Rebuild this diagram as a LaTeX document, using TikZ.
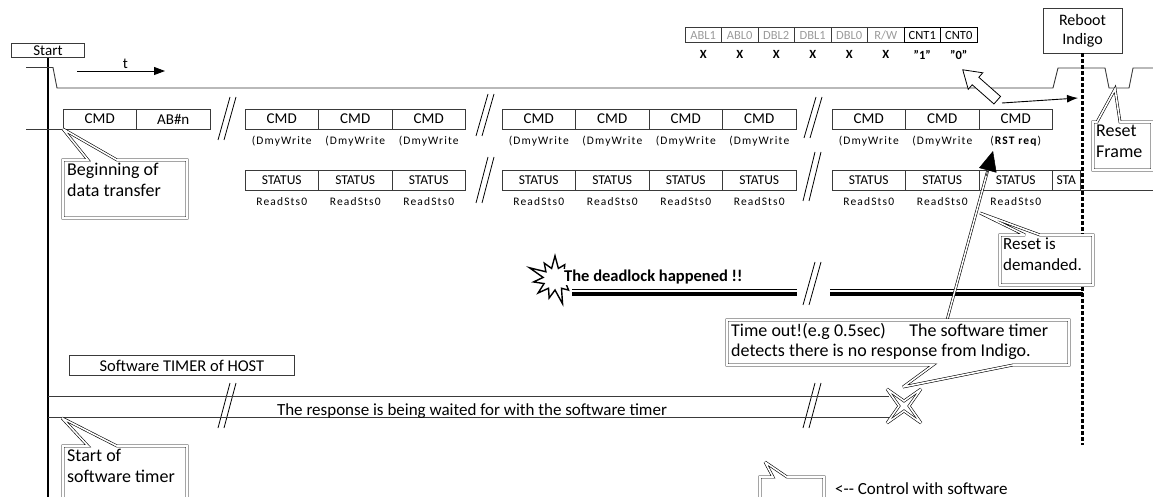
\documentclass[tikz,border=0pt]{standalone}
\usepackage{fontspec}
\setmainfont{Carlito}
\newfontfamily\widefont[LetterSpace=10]{Carlito}
\usepackage{tikz}
\usetikzlibrary{shapes.symbols,positioning,calc,arrows.meta}
\definecolor{line_gray}{HTML}{3a3a3a}
\definecolor{bit_gray}{HTML}{9b9b9b}
\tikzset{FIELD/.style={rectangle,draw=line_gray,line width=0.9pt,minimum width=73.5pt,minimum height=20pt,inner sep=0pt,outer sep=0pt,font=\fontsize{15}{15}\selectfont}}
\tikzset{STS/.style={FIELD,font=\fontsize{13.5}{14}\selectfont}}
\tikzset{NOTE/.style={inner sep=0pt,font=\widefont\fontsize{11.5}{12}\selectfont}}
\tikzset{BIT/.style={rectangle,draw=line_gray,line width=0.7pt,minimum width=36.5pt,minimum height=15pt,inner sep=0pt,outer sep=0pt,text=bit_gray,font=\fontsize{12.5}{13}\selectfont}}
\tikzset{BITVAL/.style={inner sep=0pt,font=\bfseries\fontsize{12.5}{13}\selectfont}}
\tikzset{CALLOUT/.style={draw,double,double distance=1.6pt,line width=0.6pt,fill=white,line join=miter,miter limit=4}}
\tikzset{CALLTEXT/.style={anchor=north west,align=left,inner sep=0pt,font=\fontsize{18}{21}\selectfont}}
\tikzset{WIRE/.style={draw=line_gray,line width=0.9pt}}
\tikzset{BREAK/.style={line width=0.8pt}}

\begin{document}
\begin{tikzpicture}[x=1pt,y=-1pt]
\useasboundingbox (0,0) rectangle (1153,497);

\node[draw=line_gray,line width=0.9pt,minimum width=73pt,minimum height=14pt,inner sep=0pt,anchor=south west,font=\fontsize{15}{15}\selectfont] (n_start) at (11,58) {Start};
\draw[line width=2.6pt] (n_start.south) -- ++(0,442);

\draw[WIRE] (26,67.5) -- (53,67.5) -- (57,88) -- (1053,88) -- (1058,68) -- (1105,68) -- (1109,88) -- (1129,88) -- (1133,68) -- (1153,68);
\draw[line width=0.9pt,-{Triangle[length=11pt,width=8pt]}] (77,71) -- (165,71) node[pos=0.55,above=2pt,inner sep=0pt,font=\fontsize{15}{15}\selectfont] (n_t) {t};

% bit field of the command
\node[BIT,anchor=north west] (n_abl1) at (685,27.5) {ABL1};
\node[BIT,right=0pt of n_abl1] (n_abl0) {ABL0};
\node[BIT,right=0pt of n_abl0] (n_dbl2) {DBL2};
\node[BIT,right=0pt of n_dbl2] (n_dbl1) {DBL1};
\node[BIT,right=0pt of n_dbl1] (n_dbl0) {DBL0};
\node[BIT,right=0pt of n_dbl0] (n_rw) {R/W};
\node[BIT,right=0pt of n_rw,text=black,draw=black] (n_cnt1) {CNT1};
\node[BIT,right=0pt of n_cnt1,text=black,draw=black] (n_cnt0) {CNT0};
\node[BITVAL] (v_abl1) at ($(n_abl1.south)+(0,12)$) {X};
\node[BITVAL] (v_abl0) at ($(n_abl0.south)+(0,12)$) {X};
\node[BITVAL] (v_dbl2) at ($(n_dbl2.south)+(0,12)$) {X};
\node[BITVAL] (v_dbl1) at ($(n_dbl1.south)+(0,12)$) {X};
\node[BITVAL] (v_dbl0) at ($(n_dbl0.south)+(0,12)$) {X};
\node[BITVAL] (v_rw) at ($(n_rw.south)+(0,12)$) {X};
\node[BITVAL] (v_cnt1) at ($(n_cnt1.south)+(0,12)$) {"1"};
\node[BITVAL] (v_cnt0) at ($(n_cnt0.south)+(0,12)$) {"0"};

% command frames
\draw[WIRE] (26,129) -- (63,129);
\node[FIELD,anchor=north west] (n_cmd_a1) at (63,109) {CMD};
\node[FIELD,right=0pt of n_cmd_a1] (n_abn) {AB\#n};

\node[FIELD,anchor=north west] (n_cmd_b1) at (245,109) {CMD};
\node[FIELD,right=0pt of n_cmd_b1] (n_cmd_b2) {CMD};
\node[FIELD,right=0pt of n_cmd_b2] (n_cmd_b3) {CMD};
\node[NOTE] (n_dw_b1) at ($(n_cmd_b1.south)+(0,12)$) {(DmyWrite};
\node[NOTE] (n_dw_b2) at ($(n_cmd_b2.south)+(0,12)$) {(DmyWrite};
\node[NOTE] (n_dw_b3) at ($(n_cmd_b3.south)+(0,12)$) {(DmyWrite};

\node[FIELD,anchor=north west] (n_cmd_c1) at (502,109) {CMD};
\node[FIELD,right=0pt of n_cmd_c1] (n_cmd_c2) {CMD};
\node[FIELD,right=0pt of n_cmd_c2] (n_cmd_c3) {CMD};
\node[FIELD,right=0pt of n_cmd_c3] (n_cmd_c4) {CMD};
\node[NOTE] (n_dw_c1) at ($(n_cmd_c1.south)+(0,12)$) {(DmyWrite};
\node[NOTE] (n_dw_c2) at ($(n_cmd_c2.south)+(0,12)$) {(DmyWrite};
\node[NOTE] (n_dw_c3) at ($(n_cmd_c3.south)+(0,12)$) {(DmyWrite};
\node[NOTE] (n_dw_c4) at ($(n_cmd_c4.south)+(0,12)$) {(DmyWrite};

\node[FIELD,anchor=north west] (n_cmd_d1) at (832,109) {CMD};
\node[FIELD,right=0pt of n_cmd_d1] (n_cmd_d2) {CMD};
\node[FIELD,right=0pt of n_cmd_d2] (n_cmd_d3) {CMD};
\node[NOTE] (n_dw_d1) at ($(n_cmd_d1.south)+(0,12)$) {(DmyWrite};
\node[NOTE] (n_dw_d2) at ($(n_cmd_d2.south)+(0,12)$) {(DmyWrite};
\node[NOTE] (n_rst) at ($(n_cmd_d3.south)+(0,12)$) {(\textbf{RST req})};

% status frames
\node[STS,anchor=north west] (n_sts_b1) at (245,170) {STATUS};
\node[STS,right=0pt of n_sts_b1] (n_sts_b2) {STATUS};
\node[STS,right=0pt of n_sts_b2] (n_sts_b3) {STATUS};
\node[NOTE] (n_rs_b1) at ($(n_sts_b1.south)+(0,12)$) {ReadSts0};
\node[NOTE] (n_rs_b2) at ($(n_sts_b2.south)+(0,12)$) {ReadSts0};
\node[NOTE] (n_rs_b3) at ($(n_sts_b3.south)+(0,12)$) {ReadSts0};

\node[STS,anchor=north west] (n_sts_c1) at (502,170) {STATUS};
\node[STS,right=0pt of n_sts_c1] (n_sts_c2) {STATUS};
\node[STS,right=0pt of n_sts_c2] (n_sts_c3) {STATUS};
\node[STS,right=0pt of n_sts_c3] (n_sts_c4) {STATUS};
\node[NOTE] (n_rs_c1) at ($(n_sts_c1.south)+(0,12)$) {ReadSts0};
\node[NOTE] (n_rs_c2) at ($(n_sts_c2.south)+(0,12)$) {ReadSts0};
\node[NOTE] (n_rs_c3) at ($(n_sts_c3.south)+(0,12)$) {ReadSts0};
\node[NOTE] (n_rs_c4) at ($(n_sts_c4.south)+(0,12)$) {ReadSts0};

\node[STS,anchor=north west] (n_sts_d1) at (832,170) {STATUS};
\node[STS,right=0pt of n_sts_d1] (n_sts_d2) {STATUS};
\node[STS,right=0pt of n_sts_d2] (n_sts_d3) {STATUS};
\node[STS,right=0pt of n_sts_d3,minimum width=27.5pt] (n_sts_d4) {STA};
\node[NOTE] (n_rs_d1) at ($(n_sts_d1.south)+(0,12)$) {ReadSts0};
\node[NOTE] (n_rs_d2) at ($(n_sts_d2.south)+(0,12)$) {ReadSts0};
\node[NOTE] (n_rs_d3) at ($(n_sts_d3.south)+(0,12)$) {ReadSts0};
\draw[WIRE] (n_sts_d4.south east) -- (1153,190);

% breaks of the time axis
\foreach \bx/\bt/\bb in {227/97/140, 485/94/136, 813/97/138, 485/157/203, 812/152/201, 812/262/305, 227/383/428, 812/383/428}
  \draw[BREAK] (\bx-9,\bb) -- (\bx+3,\bt) (\bx-3,\bb) -- (\bx+9,\bt);

% deadlock
\node[starburst,draw,fill=white,line width=1.4pt,minimum width=58pt,minimum height=56pt,starburst points=11,starburst point height=17pt,inner sep=0pt] (n_burst) at (555,279) {};
\node[anchor=base west,fill=white,inner sep=1pt,font=\bfseries\fontsize{16.5}{17}\selectfont] (n_deadlock) at (563,281.5) {The deadlock happened !!};
\draw[line width=0.6pt] (572,289.5) -- (797,289.5) (830,289.5) -- (1083,289.5);
\draw[line width=4pt] (572,294.3) -- (797,294.3) (830,294.3) -- (1083,294.3);

% host timer
\node[draw=line_gray,line width=0.9pt,minimum width=225pt,minimum height=20pt,inner sep=0pt,anchor=north west,font=\fontsize{16.5}{17}\selectfont] (n_timer) at (69,355) {Software TIMER of HOST};
\draw[WIRE] (48,396) -- (889,396) (48,417) -- (889,417);
\node[anchor=base,inner sep=0pt,font=\fontsize{17}{17}\selectfont] (n_wait) at (472,415.5) {The response is being waited for with the software timer};

% reboot
\node[draw=line_gray,line width=0.9pt,minimum width=79pt,minimum height=45pt,align=center,inner sep=0pt,font=\fontsize{16}{19}\selectfont] (n_reboot) at (1082.5,30.5) {Reboot\\Indigo};
\draw[line width=3.4pt,dash pattern=on 3.3pt off 2.7pt] (n_reboot.south) -- (1082.5,445);

\coordinate (c_rst_out) at (1002,103);
\coordinate (c_reboot) at (1078,98);
\draw[line width=0.9pt,-{Latex[length=11pt,width=8pt]}] (c_rst_out) -- (c_reboot);
\begin{scope}[shift={(980,85)},rotate=138.6]
  \draw[fill=white,line width=0.8pt] (-23,-5) -- (6,-5) -- (6,-11) -- (23,0) -- (6,11) -- (6,5) -- (-23,5) -- cycle;
\end{scope}

\coordinate (c_to_top) at (947,320);
\coordinate (c_rst_in) at (993,151);
\draw[double,double distance=1.5pt,line width=0.6pt] (c_to_top) -- ($(c_to_top)!0.9!(c_rst_in)$);
\draw[line width=0.5pt,-{Triangle[length=20pt,width=18pt]}] ($(c_to_top)!0.85!(c_rst_in)$) -- (c_rst_in);

% time out marker
\coordinate (c_timeout) at (904,406);
\draw[CALLOUT] ($(c_timeout)+(17,-17)$) -- ($(c_timeout)+(0,-5)$) -- ($(c_timeout)+(-17,-17)$) -- ($(c_timeout)+(-5,0)$) -- ($(c_timeout)+(-17,17)$) -- ($(c_timeout)+(0,5)$) -- ($(c_timeout)+(17,17)$) -- ($(c_timeout)+(5,0)$) -- cycle;

% callouts
\draw[CALLOUT] (63,160) -- (88,160) -- (n_cmd_a1.south west) -- (117,160) -- (187,160) -- (187,218) -- (63,218) -- cycle;
\node[CALLTEXT] (n_begin) at (67,163) {Beginning of\\data transfer};

\draw[CALLOUT] (63,446) -- (88,446) -- (62,418) -- (117,446) -- (187,446) -- (187,502) -- (63,502) -- cycle;
\node[CALLTEXT] (n_sw_start) at (67,449) {Start of\\software timer};

\draw[CALLOUT] (1000,235) -- (1025,235) -- (980,213) -- (1040,235) -- (1093,235) -- (1093,285) -- (1000,285) -- cycle;
\node[CALLTEXT,font=\fontsize{17}{21}\selectfont] (n_reset_req) at (1003,238) {Reset is\\demanded.};

\draw[CALLOUT] (727,320) -- (1069,320) -- (1069,365) -- (1013,365) -- ($(c_timeout)+(-1,-19)$) -- (933,365) -- (727,365) -- cycle;
\node[CALLTEXT,font=\fontsize{18}{20}\selectfont] (n_timeout) at (731,323) {Time out!(e.g 0.5sec)\hspace{1.3em}The software timer\\detects there is no response from Indigo.};

\draw[CALLOUT] (1093,122) -- (1097,122) -- (1115,89) -- (1120,122) -- (1152,122) -- (1152,170) -- (1093,170) -- cycle;
\node[CALLTEXT] (n_reset_frame) at (1096,125) {Reset\\Frame};

\draw[CALLOUT] (760,477) -- (773,477) -- (765,462) -- (787,477) -- (824,477) -- (824,502) -- (760,502) -- cycle;
\node[anchor=base west,inner sep=0pt,font=\fontsize{17}{17}\selectfont] (n_legend) at (835,494) {<{-}{-} Control with software};

\end{tikzpicture}
\end{document}
